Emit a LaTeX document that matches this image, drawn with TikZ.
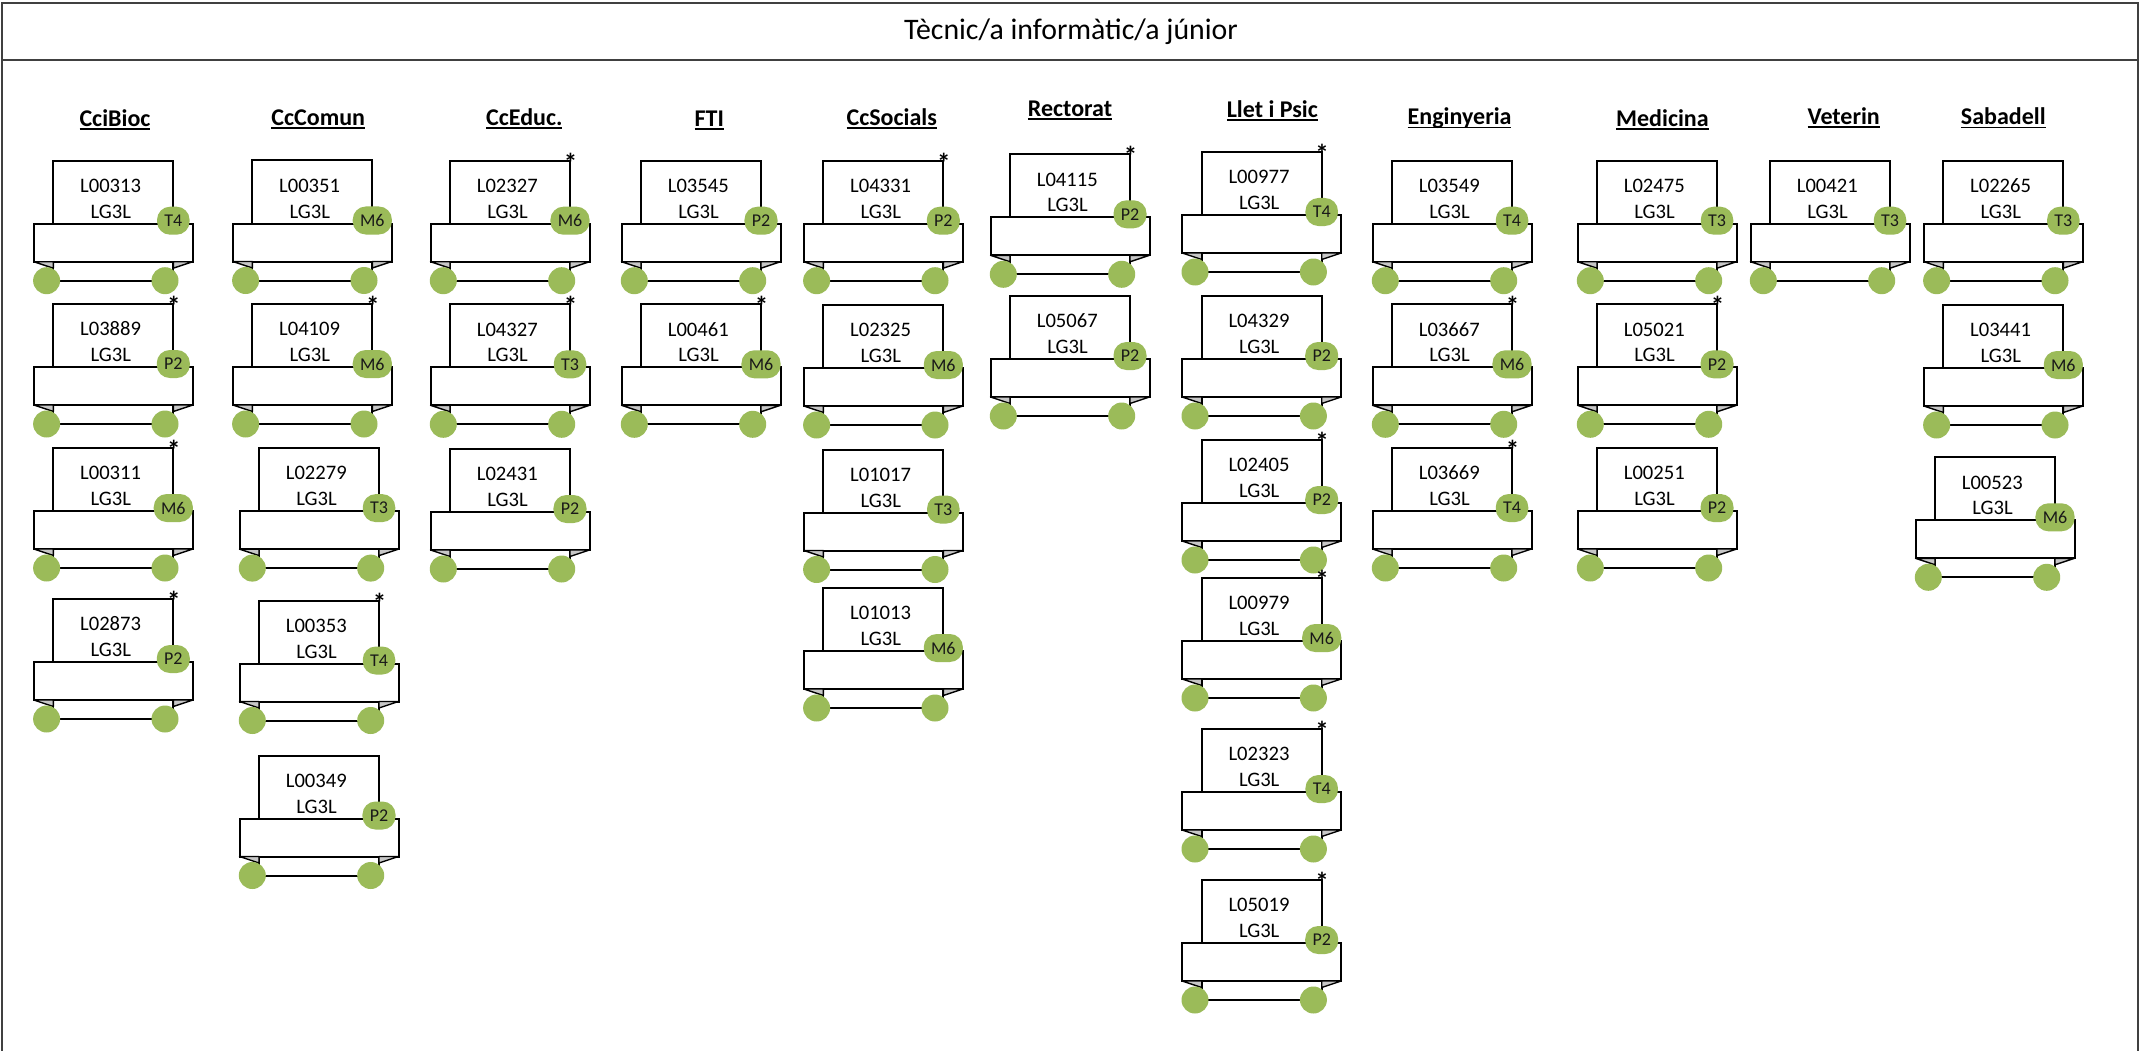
\documentclass[tikz,border=0pt]{standalone}
\usepackage{fontspec}
\setmainfont{Carlito}
\definecolor{dotgreen}{HTML}{9BBB59}
\definecolor{framegray}{HTML}{404040}
\newcommand\cardfont{\fontsize{20.6}{25}\selectfont}
\newcommand\badgefont{\fontsize{18}{20}\selectfont}
\newcommand\hdrfont{\fontsize{24}{28}\selectfont\bfseries}
\newcommand\titlefont{\fontsize{29.8}{34}\selectfont}
\newcommand\starfont{\fontsize{27}{30}\selectfont\bfseries}
\newcommand\hdul[1]{\setbox0=\hbox{#1}\rlap{\rule[-3.4pt]{\wd0}{1.8pt}}\box0}
\tikzset{
  cardline/.style={draw=black, line width=2pt},
  foldtri/.style={draw=black, fill=black!22, line width=1.4pt, line join=round},
  dot/.style={fill=dotgreen},
  badge/.style={rectangle, rounded corners=13pt, fill=dotgreen, minimum height=28pt,
    minimum width=32pt, inner xsep=7.3pt, inner ysep=0pt, font=\badgefont, text=black!90},
  codetxt/.style={font=\cardfont, inner sep=0pt, anchor=base},
  hdr/.style={font=\hdrfont, inner sep=0pt, anchor=base},
  frameline/.style={draw=framegray, line width=2pt},
  starnode/.style={font=\starfont, inner sep=0pt, anchor=north}
}
% #1 left, #2 top, #3 code, #4 badge, #5 star (1/0)
\newcommand\mycard[5]{%
\begin{scope}[shift={(#1,#2)}]
  \draw[cardline, fill=white] (0,0) rectangle (120,120);
  \draw[cardline, fill=white] (-19.5,63) rectangle (139.5,101);
  \draw[foldtri] (-19.5,101) -- (0,101) -- (0,107.5) -- cycle;
  \draw[foldtri] (139.5,101) -- (120,101) -- (120,107.5) -- cycle;
  \fill[dot] (-6.7,120) circle (13.5);
  \fill[dot] (111.7,120) circle (13.5);
  \node[codetxt] (#3) at (57.3,31.7) {#3};
  \node[codetxt] (#3-s) at (57.5,57.6) {LG3L};
  \node[badge] (#3-b) at (120,60) {#4};
  \ifnum#5=1 \node[starnode] (#3-a) at (120.5,-8) {*};\fi
\end{scope}}
\begin{document}
\begin{tikzpicture}[x=1pt,y=-1pt]
\useasboundingbox (0,0) rectangle (2149,1051);
\fill[white] (0,0) rectangle (2149,1051);
% frame
\draw[frameline] (1.5,1060) -- (1.5,3) -- (2138,3) -- (2138,1060);
\draw[frameline] (1.5,60) -- (2138,60);
\node[font=\titlefont, inner sep=0pt, anchor=base] (title) at (1071,39.5) {Tècnic/a informàtic/a júnior};
% headers
\node[hdr] (h1) at (115,126.7) {\hdul{CciBioc}};
\node[hdr] (h2) at (318.3,125.5) {\hdul{CcComun}};
\node[hdr] (h3) at (524.3,125.7) {\hdul{CcEduc.}};
\node[hdr] (h4) at (709.3,126.2) {\hdul{FTI}};
\node[hdr] (h5) at (891.7,125.8) {\hdul{CcSocials}};
\node[hdr] (h6) at (1070,116.7) {\hdul{Rectorat}};
\node[hdr] (h7) at (1272.3,117.5) {\hdul{Llet i Psic}};
\node[hdr] (h8) at (1459.6,125) {\hdul{Enginyeria}};
\node[hdr] (h9) at (1662.4,126.3) {\hdul{Medicina}};
\node[hdr] (h10) at (1843.7,124.3) {\hdul{Veterin}};
\node[hdr] (h11) at (2003.3,125) {\hdul{Sabadell}};
% CciBioc
\mycard{53.3}{160.7}{L00313}{T4}{0}
\mycard{53.3}{304}{L03889}{P2}{1}
\mycard{53.3}{448}{L00311}{M6}{1}
\mycard{53.3}{599}{L02873}{P2}{1}
% CcComun
\mycard{252.3}{160.5}{L00351}{M6}{0}
\mycard{252.3}{304}{L04109}{M6}{1}
\mycard{259}{448.1}{L02279}{T3}{0}
\mycard{259}{600.5}{L00353}{T4}{1}
\mycard{259}{755.5}{L00349}{P2}{0}
% CcEduc.
\mycard{450}{160.7}{L02327}{M6}{1}
\mycard{450}{304.3}{L04327}{T3}{1}
\mycard{450}{449}{L02431}{P2}{0}
% FTI
\mycard{641}{160.7}{L03545}{P2}{0}
\mycard{641}{304.3}{L00461}{M6}{1}
% CcSocials
\mycard{823.3}{160.7}{L04331}{P2}{1}
\mycard{823.3}{305}{L02325}{M6}{0}
\mycard{823.3}{449.5}{L01017}{T3}{0}
\mycard{823.3}{588}{L01013}{M6}{0}
% Rectorat
\mycard{1010}{154.3}{L04115}{P2}{1}
\mycard{1010}{296}{L05067}{P2}{0}
% Llet i Psic
\mycard{1201.7}{152}{L00977}{T4}{1}
\mycard{1201.7}{296}{L04329}{P2}{0}
\mycard{1201.7}{440}{L02405}{P2}{1}
\mycard{1201.7}{578}{L00979}{M6}{1}
\mycard{1201.7}{729}{L02323}{T4}{1}
\mycard{1201.7}{880}{L05019}{P2}{1}
% Enginyeria
\mycard{1392}{160.7}{L03549}{T4}{0}
\mycard{1392}{304.3}{L03667}{M6}{1}
\mycard{1392}{448}{L03669}{T4}{1}
% Medicina
\mycard{1597}{160.7}{L02475}{T3}{0}
\mycard{1597}{304.3}{L05021}{P2}{1}
\mycard{1597}{448}{L00251}{P2}{0}
% Veterin
\mycard{1770}{160.7}{L00421}{T3}{0}
% Sabadell
\mycard{1943.3}{160.7}{L02265}{T3}{0}
\mycard{1943.3}{305}{L03441}{M6}{0}
\mycard{1935}{457.3}{L00523}{M6}{0}
\end{tikzpicture}
\end{document}
